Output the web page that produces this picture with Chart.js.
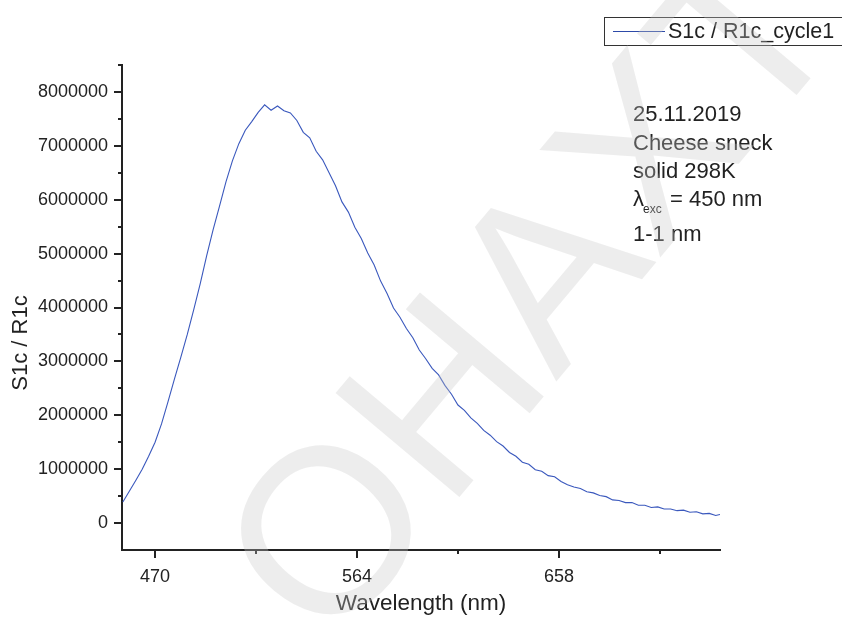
<!DOCTYPE html>
<html>
<head>
<meta charset="utf-8">
<script src="https://cdn.jsdelivr.net/npm/chart.js@4.4.1/dist/chart.umd.min.js"></script>
<style>
    html, body { margin: 0; padding: 0; background: #fff; }
    #wrap { width: 842px; height: 617px; position: relative; }
</style>
</head>
<body>
<div id="wrap"><canvas id="spectrumChart"></canvas></div>
<script>
// emission spectrum
const wavelengths = [
    455, 458, 461, 464, 467, 470, 473, 476, 479, 482, 485, 488, 491, 494, 497, 500,
    503, 506, 509, 512, 515, 518, 521, 524, 527, 530, 533, 536, 539, 542, 545, 548,
    551, 554, 557, 560, 563, 566, 569, 572, 575, 578, 581, 584, 587, 590, 593, 596,
    599, 602, 605, 608, 611, 614, 617, 620, 623, 626, 629, 632, 635, 638, 641, 644,
    647, 650, 653, 656, 659, 662, 665, 668, 671, 674, 677, 680, 683, 686, 689, 692,
    695, 698, 701, 704, 707, 710, 713, 716, 719, 722, 725, 728, 731, 733
];
const intensity = [
    390000, 590000, 790000, 1000000, 1240000, 1500000, 1840000, 2250000, 2670000, 3080000,
    3500000, 3960000, 4440000, 4960000, 5440000, 5880000, 6330000, 6720000, 7040000, 7290000,
    7450000, 7620000, 7760000, 7660000, 7740000, 7650000, 7610000, 7470000, 7250000, 7150000,
    6900000, 6740000, 6500000, 6260000, 5960000, 5770000, 5490000, 5280000, 5010000, 4790000,
    4490000, 4260000, 3990000, 3820000, 3610000, 3440000, 3210000, 3050000, 2870000, 2750000,
    2550000, 2390000, 2190000, 2090000, 1950000, 1850000, 1720000, 1630000, 1510000, 1430000,
    1310000, 1240000, 1130000, 1090000, 990000, 960000, 880000, 860000, 770000, 710000,
    670000, 640000, 580000, 560000, 510000, 490000, 430000, 420000, 380000, 380000,
    330000, 330000, 290000, 300000, 260000, 260000, 230000, 240000, 200000, 210000,
    170000, 180000, 140000, 160000
];
const xLabels = [470, 564, 658];
const yLabels = [0, 1000000, 2000000, 3000000, 4000000, 5000000, 6000000, 7000000, 8000000];
const seriesName = 'S1c / R1c_cycle1';
const yTitle = 'S1c / R1c';
const noteLines = ['25.11.2019', 'Cheese sneck', 'solid 298K', '', '1-1 nm'];

const FONT = '"Liberation Sans", Arial, sans-serif';
const INK = '#222';
const LINE_BLUE = '#3a58bd';

// outward major / minor tick marks
const tickMarks = {
    id: 'tickMarks',
    afterDraw(chart) {
        const ctx = chart.ctx;
        const xs = chart.scales.x, ys = chart.scales.y;
        ctx.save();
        ctx.strokeStyle = INK;
        ctx.lineWidth = 2;
        ctx.beginPath();
        xs.ticks.forEach(t => {
            const px = Math.round(xs.getPixelForValue(t.value));
            const len = xLabels.includes(t.value) ? 8 : 4;
            ctx.moveTo(px, xs.top);
            ctx.lineTo(px, xs.top + len);
        });
        ys.ticks.forEach(t => {
            const py = Math.round(ys.getPixelForValue(t.value));
            if (py > ys.bottom - 1) return;
            const len = yLabels.includes(t.value) ? 8 : 4;
            ctx.moveTo(ys.right, py);
            ctx.lineTo(ys.right - len, py);
        });
        ctx.stroke();
        ctx.restore();
    }
};

// y title, legend box, sample note and watermark
const extras = {
    id: 'extras',
    afterDraw(chart) {
        const ctx = chart.ctx;
        ctx.save();

        ctx.fillStyle = INK;
        ctx.save();
        ctx.translate(21, 343);
        ctx.rotate(-Math.PI / 2);
        ctx.font = '22px ' + FONT;
        ctx.textAlign = 'center';
        ctx.textBaseline = 'middle';
        ctx.fillText(yTitle, 0, 0);
        ctx.restore();

        // legend
        ctx.fillStyle = '#fff';
        ctx.fillRect(604, 17, 250, 28);
        ctx.strokeStyle = '#333';
        ctx.lineWidth = 1;
        ctx.strokeRect(604.5, 17.5, 250, 28);
        ctx.strokeStyle = '#2d4aa8';
        ctx.beginPath();
        ctx.moveTo(613, 31.5);
        ctx.lineTo(665, 31.5);
        ctx.stroke();
        ctx.fillStyle = INK;
        ctx.font = '21.5px ' + FONT;
        ctx.textBaseline = 'middle';
        ctx.fillText(seriesName, 668, 32);

        // note
        const tops = [115, 144, 172, 200, 235];
        ctx.font = '22px ' + FONT;
        noteLines.forEach((s, i) => {
            if (s) ctx.fillText(s, 633, tops[i]);
        });
        ctx.fillText('\u03bb', 633, tops[3]);
        ctx.font = '12px ' + FONT;
        ctx.fillText('exc', 643, tops[3] + 10);
        ctx.font = '22px ' + FONT;
        ctx.fillText('= 450 nm', 670, tops[3]);

        // watermark
        ctx.translate(540, 300);
        ctx.rotate(-50 * Math.PI / 180);
        ctx.font = '235px ' + FONT;
        ctx.textAlign = 'center';
        ctx.textBaseline = 'middle';
        ctx.fillStyle = 'rgba(200,200,200,0.32)';
        ctx.fillText('OHAXT', 0, 0);

        ctx.restore();
    }
};

new Chart(document.getElementById('spectrumChart'), {
    type: 'line',
    data: {
        datasets: [{
            label: seriesName,
            data: wavelengths.map((w, i) => ({ x: w, y: intensity[i] })),
            borderColor: LINE_BLUE,
            borderWidth: 1.1,
            pointRadius: 0,
            tension: 0,
            fill: false
        }]
    },
    options: {
        responsive: true,
        maintainAspectRatio: false,
        animation: false,
        layout: { padding: { top: 65, right: 122, left: 0, bottom: 0 } },
        plugins: {
            legend: { display: false },
            tooltip: { enabled: false }
        },
        scales: {
            x: {
                type: 'linear',
                min: 454.6,
                max: 733,
                afterFit: s => { s.height = 67; },
                border: { display: true, color: INK, width: 2 },
                grid: { display: false, drawTicks: false },
                ticks: {
                    stepSize: 47,
                    includeBounds: false,
                    autoSkip: false,
                    maxRotation: 0,
                    padding: 16,
                    color: INK,
                    font: { family: FONT, size: 18 },
                    callback: v => xLabels.includes(v) ? String(v) : ''
                },
                title: {
                    display: true,
                    text: 'Wavelength (nm)',
                    color: INK,
                    font: { family: FONT, size: 22.5 },
                    padding: { top: 0, bottom: 0 }
                }
            },
            y: {
                min: -500000,
                max: 8500000,
                afterFit: s => { s.width = 122; },
                border: { display: true, color: INK, width: 2 },
                grid: { display: false, drawTicks: false },
                ticks: {
                    stepSize: 500000,
                    autoSkip: false,
                    padding: 14,
                    color: INK,
                    font: { family: FONT, size: 18 },
                    callback: v => yLabels.includes(v) ? String(v) : ''
                }
            }
        }
    },
    plugins: [tickMarks, extras]
});
</script>
</body>
</html>
